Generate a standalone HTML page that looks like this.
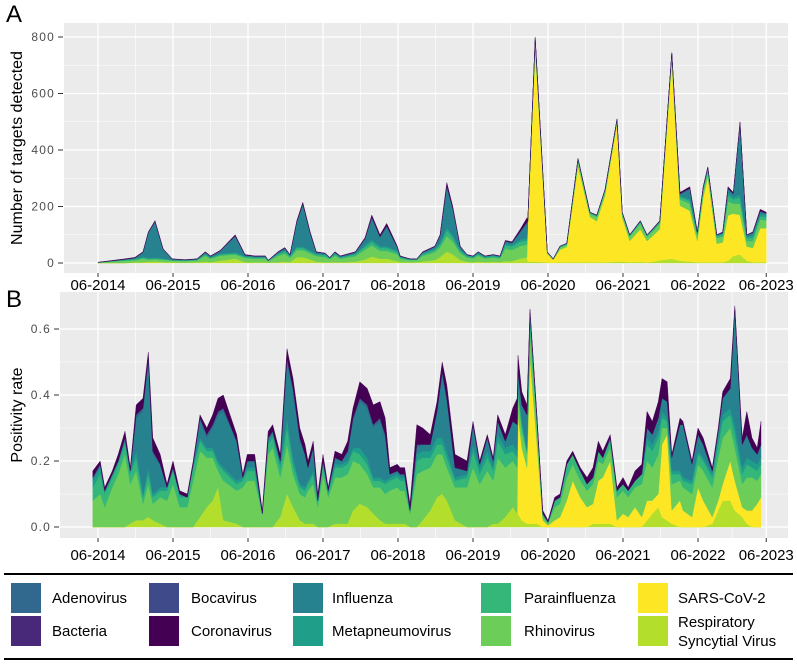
<!DOCTYPE html>
<html><head><meta charset="utf-8"><style>
body{margin:0;background:#fff}
svg{display:block;font-family:"Liberation Sans",Arial,sans-serif}
</style></head><body>
<svg id="fig" width="797" height="664" viewBox="0 0 797 664" xmlns="http://www.w3.org/2000/svg">
<rect x="64" y="23" width="724" height="250" fill="#ebebeb"/>
<rect x="60" y="292" width="728" height="246" fill="#ebebeb"/>
<g id="gridA"></g>
<g id="gridB"></g>
<g id="areasA"></g>
<g id="areasB"></g>
<g id="axesA"></g>
<g id="axesB"></g>
<text x="6" y="22" font-size="24">A</text>
<text x="6" y="307" font-size="24">B</text>
<text transform="translate(22,148) rotate(-90)" text-anchor="middle" font-size="16">Number of targets detected</text>
<text transform="translate(22,415) rotate(-90)" text-anchor="middle" font-size="16">Positivity rate</text>
<line x1="4" y1="574" x2="793" y2="574" stroke="#000" stroke-width="2"/>
<line x1="4" y1="659" x2="793" y2="659" stroke="#000" stroke-width="2"/>
<g font-size="15">
<g><rect x="11" y="583" width="30" height="30" fill="#31688E"/><text x="52" y="603">Adenovirus</text></g>
<g><rect x="11" y="616" width="30" height="30" fill="#482878"/><text x="52" y="636">Bacteria</text></g>
<g><rect x="149" y="583" width="30" height="30" fill="#3E4A89"/><text x="191" y="603">Bocavirus</text></g>
<g><rect x="149" y="616" width="30" height="30" fill="#440154"/><text x="191" y="636">Coronavirus</text></g>
<g><rect x="293" y="583" width="30" height="30" fill="#26828E"/><text x="332" y="603">Influenza</text></g>
<g><rect x="293" y="616" width="30" height="30" fill="#1F9E89"/><text x="332" y="636">Metapneumovirus</text></g>
<g><rect x="481" y="583" width="30" height="30" fill="#35B779"/><text x="524" y="603">Parainfluenza</text></g>
<g><rect x="481" y="616" width="30" height="30" fill="#6DCD59"/><text x="524" y="636">Rhinovirus</text></g>
<g><rect x="638" y="583" width="30" height="30" fill="#FDE725"/><text x="678" y="603">SARS-CoV-2</text></g>
<g><rect x="638" y="616" width="30" height="30" fill="#B4DE2C"/><text x="678" y="627">Respiratory</text><text x="678" y="646">Syncytial Virus</text></g>
</g>
</svg>
<script>
const tickDates=[2014.5,2015.5,2016.5,2017.5,2018.5,2019.5,2020.5,2021.5,2022.5,2023.41];
const tickLabels=["06-2014","06-2015","06-2016","06-2017","06-2018","06-2019","06-2020","06-2021","06-2022","06-2023"];
const yTicksA=[0,200,400,600,800];
const yTicksB=[0,0.2,0.4,0.6];
const yLabelsB=["0.0","0.2","0.4","0.6"];
const seriesNames=["rsv","sars","rhino","para","meta","flu","adeno","corona"];
const seriesColors=["#B4DE2C","#FDE725","#6DCD59","#35B779","#1F9E89","#26828E","#31688E","#440154"];

const datesA=[2014.50,2014.66,2014.86,2014.99,2015.10,2015.17,2015.26,2015.37,2015.49,2015.66,
2015.82,2015.93,2016.00,2016.13,2016.33,2016.46,2016.59,2016.73,2016.77,2016.90,
2016.99,2017.06,2017.15,2017.23,2017.33,2017.41,2017.53,2017.59,2017.66,2017.73,
2017.93,2018.06,2018.15,2018.26,2018.35,2018.49,2018.53,2018.66,2018.75,2018.83,
2018.99,2019.06,2019.15,2019.23,2019.33,2019.42,2019.50,2019.57,2019.66,2019.77,
2019.86,2019.93,2020.02,2020.13,2020.22,2020.23,2020.33,2020.49,2020.57,2020.66,
2020.75,2020.90,2021.06,2021.15,2021.26,2021.42,2021.49,2021.59,2021.73,2021.82,
2021.89,2021.99,2022.15,2022.26,2022.39,2022.49,2022.57,2022.63,2022.75,2022.83,
2022.90,2022.97,2023.06,2023.15,2023.23,2023.33,2023.41];
const aRsv=[0,0,0,2,3,4,5,3,2,1, 2,5,3,8,15,3,2,2,1,3, 5,3,20,20,12,4,3,2,3,2, 4,12,22,15,15,6,3,2,2,5, 10,20,40,30,10,4,3,5,3,4, 3,6,6,15,20,5,5,2,1,2, 2,3,3,3,3,5,5,3,4,3, 4,10,15,8,5,3,3,3,3,3, 8,25,30,8,3,3,3];
const aSars=[0,0,0,0,0,0,0,0,0,0, 0,0,0,0,0,0,0,0,0,0, 0,0,0,0,0,0,0,0,0,0, 0,0,0,0,0,0,0,0,0,0, 0,0,0,0,0,0,0,0,0,0, 0,0,0,0,0,140,760,30,10,45, 55,340,160,145,235,490,155,75,115,75, 90,110,705,195,180,75,230,300,65,70, 160,150,140,50,50,120,120];
const aRhino=[2,5,8,8,12,8,8,8,6,6, 7,20,12,18,15,15,13,13,5,22, 28,15,25,25,22,20,18,11,22,13, 20,35,40,28,28,25,12,8,8,20, 28,35,55,45,25,15,13,20,13,15, 13,45,40,45,45,3,15,4,2,8, 8,18,10,15,15,8,12,15,20,14, 16,20,15,22,25,18,20,20,20,20, 50,35,40,20,25,30,28];
const aPara=[0,1,3,3,4,3,3,3,2,2, 2,5,3,4,4,4,4,4,2,6, 8,5,8,8,6,6,6,3,6,4, 6,10,12,10,10,8,4,2,2,6, 8,10,20,15,8,5,4,6,4,5, 4,12,12,15,15,1,8,2,1,3, 3,6,4,4,4,3,4,4,6,5, 5,5,5,8,10,6,8,8,6,7, 20,15,20,10,12,12,11];
const aMeta=[0,0,0,2,3,3,3,2,1,1, 1,3,2,3,4,2,2,2,1,3, 4,3,5,5,4,3,3,2,3,2, 3,6,8,6,6,5,2,1,1,3, 5,6,10,8,5,3,2,3,2,3, 2,6,6,8,8,0,4,1,0,1, 1,2,2,2,2,2,2,2,3,2, 3,3,3,5,6,4,4,4,3,4, 10,8,12,5,8,8,8];
const aFlu=[0,1,2,3,15,88,126,30,2,1, 1,4,3,8,55,3,2,2,0,3, 5,2,85,147,60,4,3,1,3,2, 4,20,75,30,67,10,2,1,1,3, 5,22,140,90,8,2,2,4,2,2, 2,6,6,25,50,0,2,0,0,0, 0,0,0,0,0,0,0,0,0,0, 0,0,0,5,35,2,3,3,2,3, 12,10,250,5,8,8,5];
const aAdeno=[0,0,0,0,1,2,2,2,1,0, 1,1,1,2,3,1,1,1,0,1, 2,1,3,4,2,1,1,0,1,1, 1,3,5,4,5,2,1,0,0,1, 2,3,8,5,2,0,0,1,0,0, 0,2,2,4,6,0,2,0,0,0, 0,0,0,0,0,0,0,0,0,0, 0,0,0,2,3,1,1,1,0,1, 3,2,3,1,2,2,1];
const aCorona=[1,1,2,2,2,2,3,2,1,1, 1,2,1,2,4,2,1,1,1,2, 3,1,4,6,4,2,1,1,2,1, 2,4,8,7,9,4,1,1,1,2, 2,4,12,7,2,1,1,1,1,1, 1,3,3,8,16,1,4,1,1,1, 1,1,1,1,1,2,2,1,2,1, 2,2,2,5,6,1,1,1,1,2, 7,5,5,1,2,7,4];

const datesB=[2014.43,2014.53,2014.59,2014.69,2014.77,2014.86,2014.93,2015.01,2015.10,2015.17,
2015.23,2015.33,2015.42,2015.50,2015.59,2015.69,2015.77,2015.86,2015.95,2016.03,
2016.10,2016.17,2016.35,2016.43,2016.49,2016.59,2016.69,2016.77,2016.83,2016.93,
2017.02,2017.10,2017.19,2017.26,2017.30,2017.37,2017.43,2017.50,2017.57,2017.66,
2017.75,2017.83,2017.90,2017.99,2018.09,2018.17,2018.26,2018.33,2018.39,2018.49,
2018.53,2018.59,2018.66,2018.75,2018.83,2018.93,2019.02,2019.09,2019.15,2019.26,
2019.42,2019.50,2019.59,2019.69,2019.77,2019.83,2019.93,2020.03,2020.09,2020.10,
2020.15,2020.22,2020.26,2020.35,2020.43,2020.50,2020.59,2020.66,2020.75,2020.83,
2020.93,2021.02,2021.10,2021.17,2021.23,2021.33,2021.42,2021.50,2021.57,2021.66,
2021.75,2021.82,2021.89,2021.97,2022.02,2022.09,2022.15,2022.26,2022.30,2022.42,
2022.50,2022.57,2022.69,2022.77,2022.83,2022.93,2022.99,2023.09,2023.15,2023.22,
2023.29,2023.34];
const bRsv=[0,0,0,0,0,0,.01,.02,.02,.03, .02,.01,0,0,0,0,0,.03,.06,.08, .12,.02,.01,0,0,0,0,0,0,.03, .10,.06,.02,.01,.01,.01,0,0,0,.01, .01,.01,.05,.07,.06,.04,.02,.01,.01,.01, .01,.01,0,0,.02,.05,.09,.10,.08,.02, 0,0,0,0,.01,.01,.03,.06,.04,.04, .02,.01,.01,.01,0,0,0,0,0,0, 0,0,.01,.01,.01,.01,0,0,0,0, 0,.02,.04,.06,.03,.02,.01,0,0,0, 0,0,.01,.05,.08,.08,.05,.03,.01,0, 0,0];
const bSars=[0,0,0,0,0,0,0,0,0,0, 0,0,0,0,0,0,0,0,0,0, 0,0,0,0,0,0,0,0,0,0, 0,0,0,0,0,0,0,0,0,0, 0,0,0,0,0,0,0,0,0,0, 0,0,0,0,0,0,0,0,0,0, 0,0,0,0,0,0,0,0,0,.30, .22,.17,.50,.25,.02,.005,.02,.03,.08,.14, .09,.06,.06,.13,.14,.19,.02,.04,.03,.06, .03,.06,.04,.04,.22,.26,.04,.08,.05,.03, .12,.08,.02,.03,.05,.12,.09,.03,.04,.05, .07,.09];
const bRhino=[.08,.10,.06,.12,.16,.22,.12,.15,.05,.10, .05,.08,.08,.13,.06,.06,.14,.20,.15,.13, .05,.12,.10,.12,.14,.14,.04,.22,.24,.12, .15,.10,.08,.08,.10,.12,.06,.16,.09,.14, .14,.15,.15,.12,.10,.08,.10,.09,.10,.11, .10,.10,.04,.16,.15,.13,.13,.12,.10,.10, .12,.18,.13,.17,.13,.20,.15,.14,.14,.06, .05,.04,.08,.05,.01,.005,.04,.04,.07,.05, .05,.05,.06,.06,.04,.04,.07,.07,.06,.06, .10,.12,.10,.12,.05,.02,.08,.06,.07,.07, .07,.09,.09,.13,.14,.10,.10,.07,.10,.10, .07,.07];
const bPara=[.04,.06,.04,.03,.03,.03,.03,.04,.02,.03, .02,.02,.03,.04,.03,.03,.04,.03,.02,.02, .02,.03,.02,.02,.03,.03,0,.03,.03,.03, .05,.03,.02,.02,.02,.03,.02,.03,.01,.03, .03,.03,.03,.03,.03,.02,.02,.03,.03,.03, .03,.03,.01,.04,.04,.03,.03,.03,.03,.02, .03,.05,.03,.04,.03,.05,.04,.03,.03,.02, .02,.01,.03,.02,.01,.005,.02,.02,.04,.03, .03,.02,.02,.03,.02,.02,.02,.02,.02,.02, .03,.05,.05,.05,.03,.02,.03,.02,.02,.03, .03,.03,.03,.04,.05,.04,.04,.03,.04,.03, .03,.03];
const bMeta=[.02,.02,.01,.01,.01,.01,.01,.02,.01,.02, .01,.01,.01,.01,.01,0,.01,.01,.01,.01, .01,.01,.01,.01,.01,.01,0,.01,.01,.01, .03,.02,.01,.01,.01,.01,0,.01,.01,.01, .01,.01,.01,.02,.02,.01,.01,.01,.01,.01, .01,.01,0,.02,.02,.02,.02,.02,.02,.01, .01,.02,.02,.02,.01,.02,.02,.02,.02,.01, .01,.01,.02,.01,0,0,0,0,0,0, 0,0,0,0,0,.01,0,0,0,0, 0,.02,.02,.02,.02,.01,.01,.01,.01,.01, .01,.01,.01,.02,.02,.02,.03,.02,.02,.02, .02,.02];
const bFlu=[.01,.01,0,0,0,.01,0,.10,.25,.32, .12,.07,0,0,0,0,0,.05,.03,.06, .14,.17,.12,0,.02,.02,0,.01,.01,.01, .17,.20,.13,.10,.04,.07,0,0,0,.02, .01,.03,.08,.14,.15,.15,.17,.13,.01,.01, .01,.01,0,.02,.02,.02,.08,.19,.15,.03, .01,.06,.01,.04,.02,.04,.02,.07,.08,.04, .05,.10,.01,0,0,0,0,0,0,0, 0,0,0,0,0,0,0,0,0,0, 0,.03,.03,.04,.04,.05,.04,.14,.16,.05, .05,.04,.01,.02,.05,.06,.35,.07,.07,.04, .03,.04];
const bAdeno=[0,0,0,0,0,0,0,.01,.01,.01, .01,0,0,0,0,0,0,.01,.01,.01, .01,.01,0,0,0,0,0,0,0,0, .01,.01,.01,0,0,0,0,0,0,0, 0,0,.01,.01,.01,.01,.01,.01,0,0, 0,0,0,.01,0,0,0,.01,.01,0, 0,0,0,0,0,0,0,0,0,0, 0,0,0,0,0,0,0,0,0,0, 0,0,0,0,0,0,0,0,0,0, 0,0,0,0,0,0,0,0,0,0, 0,0,0,0,0,0,0,0,0,0, 0,0];
const bCorona=[.02,.01,.01,.01,.02,.02,.01,.03,.03,.02, .04,.03,.01,.02,.01,.01,.01,.01,.02,.03, .04,.04,.02,.01,.02,.02,.01,.02,.02,.02, .03,.03,.03,.03,.02,.02,.02,.02,.01,.02, .02,.03,.03,.05,.05,.06,.05,.05,.02,.02, .02,.02,.02,.06,.05,.03,.03,.03,.04,.04, .03,.01,.01,.01,.01,.02,.02,.04,.08,.05, .04,.03,.01,.01,.01,.005,.01,.01,.01,.01, .01,.02,.03,.03,.02,.01,.01,.02,.01,.03, .03,.05,.04,.05,.06,.06,.01,.02,.01,.01, .02,.02,.01,.01,.02,.03,.01,.02,.07,.03, .02,.07];

const NS="http://www.w3.org/2000/svg";
function xScale(t){return 98+(t-2014.5)*75;}
function yA(v){return 263-v*0.2825;}
function yB(v){return 527-v*330;}
function mk(tag,attrs,parent){const e=document.createElementNS(NS,tag);for(const k in attrs)e.setAttribute(k,attrs[k]);parent.appendChild(e);return e;}

function grid(g,top,bot,left,right,ticks,yfn){
  for(let i=0;i<tickDates.length-1;i++){
    const xm=(xScale(tickDates[i])+xScale(tickDates[i+1]))/2;
    const l=mk('line',{x1:xm,x2:xm,y1:top,y2:bot,stroke:'#fff','stroke-width':0.6},g);
    
    
  }
  for(let i=0;i<ticks.length-1;i++){
    const ym=(yfn(ticks[i])+yfn(ticks[i+1]))/2;
    const l=mk('line',{x1:left,x2:right,y1:ym,y2:ym,stroke:'#fff','stroke-width':0.6},g);
    
    
  }
  tickDates.forEach(t=>{
    const l=mk('line',{x1:xScale(t),x2:xScale(t),y1:top,y2:bot,stroke:'#fff','stroke-width':1.3},g);
    
    
  });
  ticks.forEach(v=>{
    const l=mk('line',{x1:left,x2:right,y1:yfn(v),y2:yfn(v),stroke:'#fff','stroke-width':1.3},g);
    
    
  });
}
function areas(g,dates,series,yfn,panel){
  const n=dates.length;let base=new Array(n).fill(0);
  series.forEach((s,si)=>{
    const top=base.map((b,i)=>b+(s[i]||0));
    let pts=[];
    for(let i=0;i<n;i++)pts.push(xScale(dates[i]).toFixed(1)+','+yfn(top[i]).toFixed(1));
    for(let i=n-1;i>=0;i--)pts.push(xScale(dates[i]).toFixed(1)+','+yfn(base[i]).toFixed(1));
    const p=mk('polygon',{points:pts.join(' '),fill:seriesColors[si],stroke:seriesColors[si],'stroke-width':0.4,'stroke-linejoin':'round'},g);
    
    
    base=top;
  });
}
function axes(g,bot,left,ticks,labels,yfn,labelY){
  ticks.forEach((v,i)=>{
    const l=mk('line',{x1:left-6,x2:left-1,y1:yfn(v),y2:yfn(v),stroke:'#333','stroke-width':1},g);
    
    
    const t=mk('text',{x:left-9,y:yfn(v)+4,'text-anchor':'end','font-size':12,fill:'#4d4d4d','letter-spacing':'1.2'},g);
    t.textContent=labels[i];
    
    
  });
  tickDates.forEach((d,i)=>{
    const x=xScale(d);
    const l=mk('line',{x1:x,x2:x,y1:bot,y2:bot+4,stroke:'#333','stroke-width':1},g);
    
    
    const t=mk('text',{x:x,y:labelY,'text-anchor':'middle','font-size':15,fill:'#000'},g);
    t.textContent=tickLabels[i];
    
    
  });
}
grid(document.getElementById('gridA'),23,273,64,788,yTicksA,yA);
grid(document.getElementById('gridB'),292,538,60,788,yTicksB,yB);
areas(document.getElementById('areasA'),datesA,[aRsv,aSars,aRhino,aPara,aMeta,aFlu,aAdeno,aCorona],yA,'panel-a');
areas(document.getElementById('areasB'),datesB,[bRsv,bSars,bRhino,bPara,bMeta,bFlu,bAdeno,bCorona],yB,'panel-b');
axes(document.getElementById('axesA'),273,64,yTicksA,yTicksA.map(String),yA,290);
axes(document.getElementById('axesB'),538,60,yTicksB,yLabelsB,yB,560);
</script>
</body></html>
